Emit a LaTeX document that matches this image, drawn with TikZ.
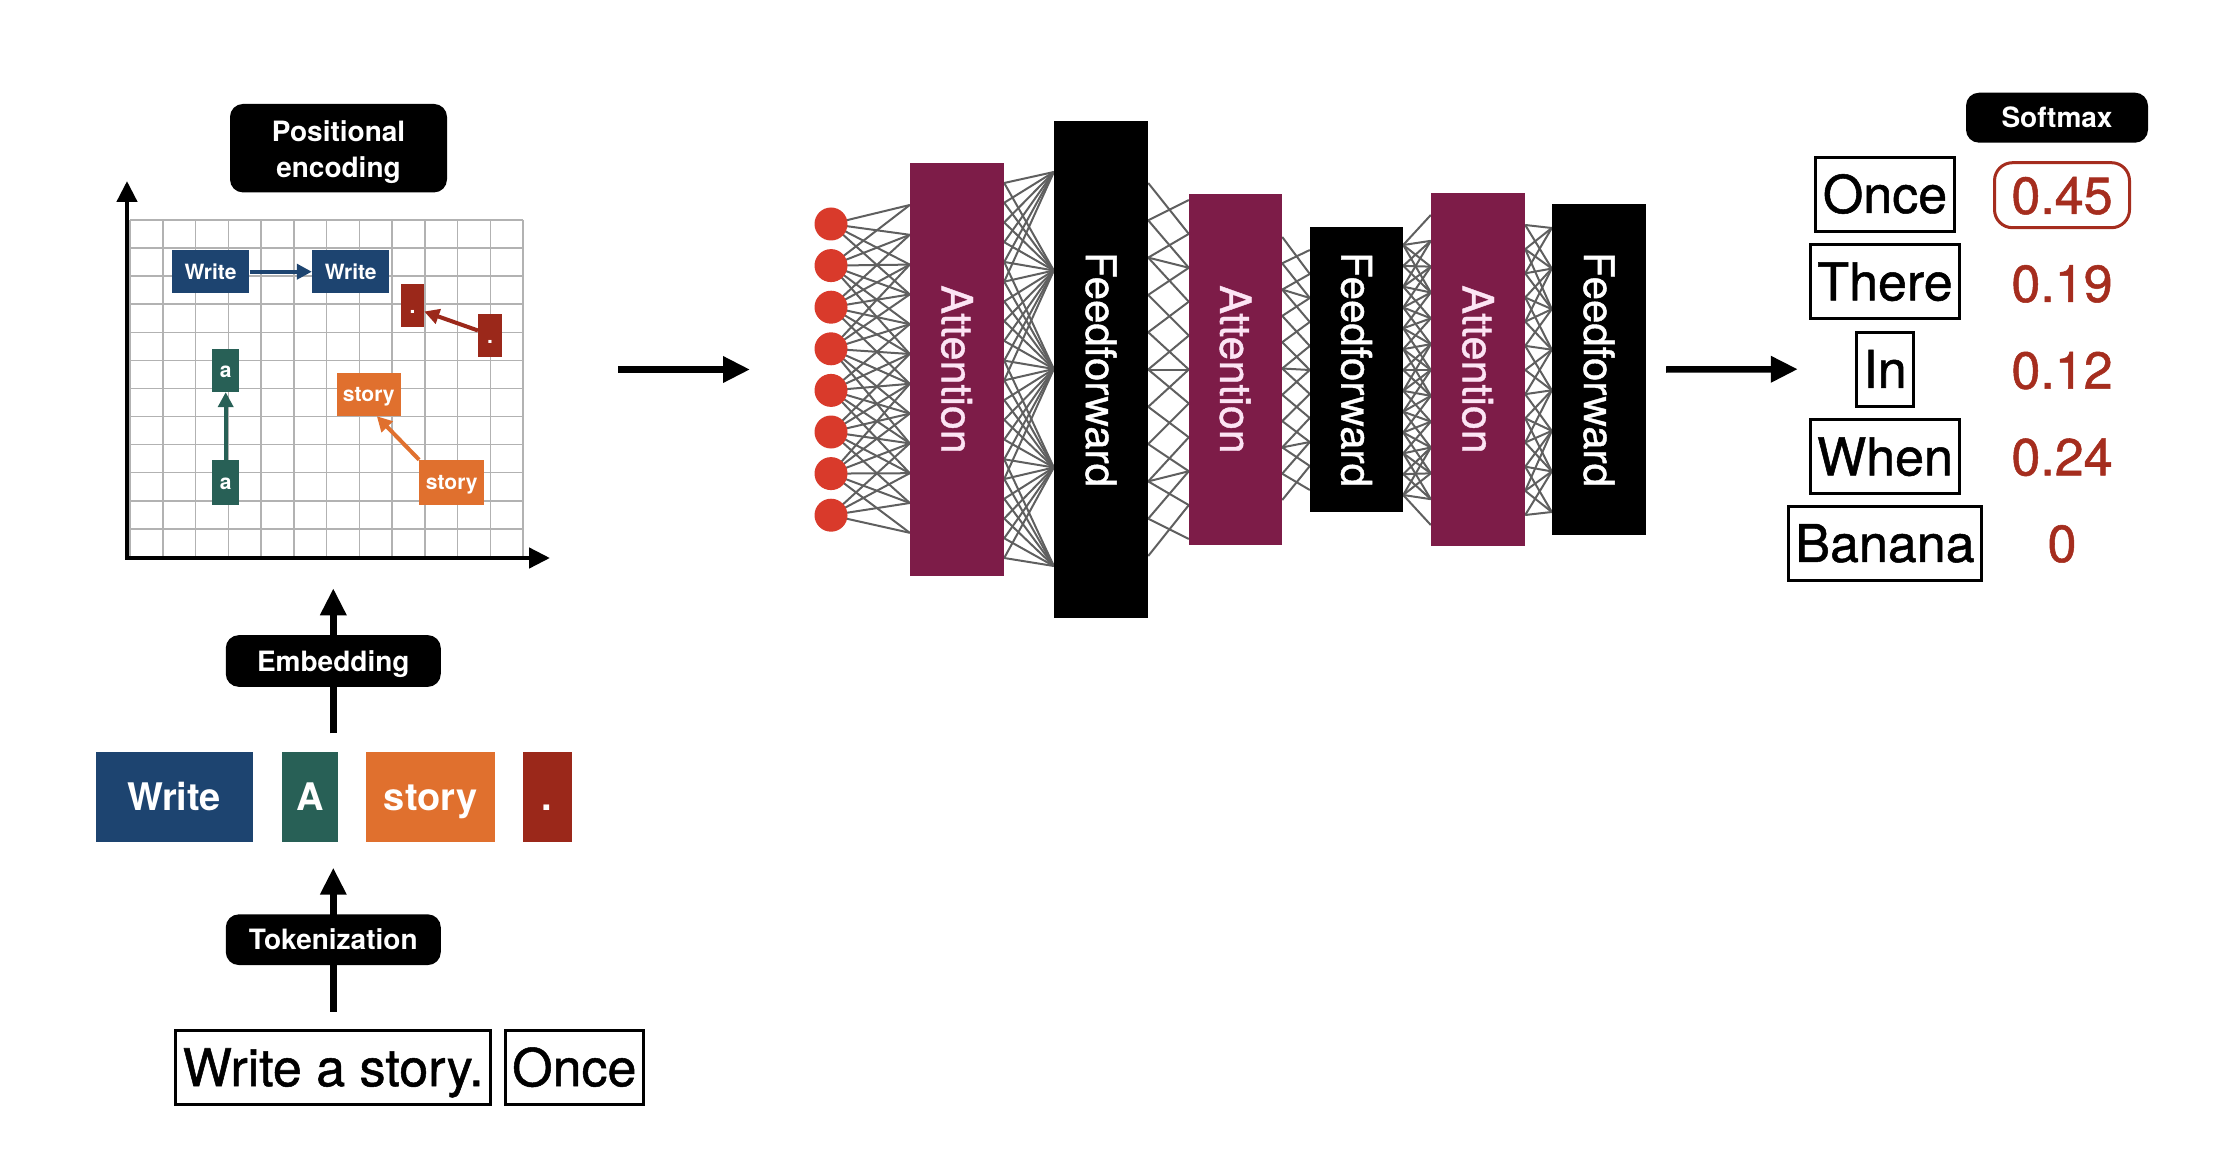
\documentclass[tikz,border=0pt]{standalone}
\usepackage{fontspec}
\setmainfont{TeX Gyre Heros}
\newfontfamily\heavyreg[FakeBold=1]{TeX Gyre Heros}
\usepackage{graphicx}
\usetikzlibrary{arrows.meta,backgrounds}
\definecolor{tkblue}{RGB}{29,68,112}
\definecolor{tkteal}{RGB}{40,96,86}
\definecolor{tkorange}{RGB}{224,112,46}
\definecolor{tkred}{RGB}{155,40,26}
\definecolor{attfill}{RGB}{125,28,72}
\definecolor{atttext}{RGB}{252,228,244}
\definecolor{neuronred}{RGB}{217,58,43}
\definecolor{numred}{RGB}{165,45,30}
\definecolor{netgray}{RGB}{95,95,95}
\definecolor{gridgray}{RGB}{178,178,178}

% #1 left node, #2 right node, #3 nL-1, #4 aL, #5 bL, #6 nR-1, #7 aR, #8 bR, #9 max dy
\newcommand\gapLines[9]{%
  \foreach \i in {0,...,#3}{%
    \foreach \j in {0,...,#6}{%
      \pgfmathsetmacro\yL{#4+(#5-#4)*\i/#3}%
      \pgfmathsetmacro\yR{#7+(#8-#7)*\j/#6}%
      \pgfmathtruncatemacro\ok{abs(\yL-\yR)<=#9 ? 1 : 0}%
      \ifnum\ok=1
        \pgfmathsetmacro\sL{369.5-\yL}%
        \pgfmathsetmacro\sR{369.5-\yR}%
        \draw[net] ([yshift=\sL pt]#1.east) -- ([yshift=\sR pt]#2.west);
      \fi
    }%
  }%
}
% sparse crossing pattern: #1 left, #2 right, #3 n-1, #4 aL, #5 bL, #6 aR, #7 bR
\newcommand\gapX[7]{%
  \foreach \i in {0,...,#3}{%
    \foreach \j in {0,...,#3}{%
      \pgfmathtruncatemacro\ok{((abs(\i-\j)==1) || ((\i==\j) && (mod(\i,3)==2))) ? 1 : 0}%
      \ifnum\ok=1
        \pgfmathsetmacro\sL{369.5-(#4+(#5-#4)*\i/#3)}%
        \pgfmathsetmacro\sR{369.5-(#6+(#7-#6)*\j/#3)}%
        \draw[net] ([yshift=\sL pt]#1.east) -- ([yshift=\sR pt]#2.west);
      \fi
    }%
  }%
}

\begin{document}
\begin{tikzpicture}[x=1pt,y=-1pt,
  lbl/.style={fill=black,text=white,rounded corners=13pt,font=\bfseries\fontsize{28}{36}\selectfont,inner sep=0pt,align=center},
  gtok/.style={text=white,font=\bfseries\fontsize{21}{24}\selectfont,inner sep=0pt,text height=15.1pt,text depth=0pt},
  rtok/.style={text=white,font=\bfseries\fontsize{38}{42}\selectfont,inner sep=0pt,minimum height=90pt,text height=27.3pt,text depth=0pt},
  wordbox/.style={draw=black,line width=3pt,font=\heavyreg\fontsize{52}{60}\selectfont,inner xsep=7pt,inner ysep=0pt,minimum height=74pt,text height=37.3pt,text depth=0pt},
  num/.style={text=numred,font=\heavyreg\fontsize{52}{60}\selectfont,inner sep=0pt,text height=37.3pt,text depth=0pt},
  attbox/.style={fill=attfill,text=atttext,font=\heavyreg\fontsize{43}{48}\selectfont,inner sep=0pt,minimum width=94pt},
  ffbox/.style={fill=black,text=white,font=\heavyreg\fontsize{42}{48}\selectfont,inner sep=0pt,minimum width=94pt},
  neuron/.style={circle,fill=neuronred,inner sep=0pt,minimum size=33pt},
  net/.style={draw=netgray,line width=2pt},
  bigarrow/.style={line width=6.5pt,-{Triangle[length=27pt,width=25pt]}},
  garrow/.style={line width=4pt,-{Triangle[length=15pt,width=15pt]}},
  axisline/.style={line width=4.5pt,{Triangle[length=21pt,width=20pt]}-{Triangle[length=21pt,width=20pt]}},
  gridline/.style={draw=gridgray,line width=1.5pt}
]
\useasboundingbox (0,0) rectangle (2238,1150);

% ---------- positional encoding plot ----------
\foreach \i in {0,...,12}{
  \draw[gridline] ({130+\i*32.75},220) -- ({130+\i*32.75},557);
  \draw[gridline] (130,{220+\i*28.08}) -- (523,{220+\i*28.08});
}
\coordinate (O) at (127,558);
\coordinate (ytip) at (127,181);
\coordinate (xtip) at (550,558);
\draw[axisline] (ytip) -- (O) -- (xtip);

\node[lbl,minimum width=217pt,minimum height=88.5pt] (pe) at (338.5,148.2)
  {\raisebox{-4pt}[\height][\depth]{\begin{tabular}{@{}c@{}}Positional\\encoding\end{tabular}}};

\node[gtok,fill=tkblue,minimum width=77.6pt,minimum height=43.3pt] (gw1) at (210.5,271.7) {Write};
\node[gtok,fill=tkblue,minimum width=77.3pt,minimum height=43.3pt] (gw2) at (350.7,271.7) {Write};
\node[gtok,fill=tkred,minimum width=23pt,minimum height=43pt] (gr1) at (412.5,305.5) {.};
\node[gtok,fill=tkred,minimum width=23.7pt,minimum height=43pt] (gr2) at (490,335.5) {.};
\node[gtok,fill=tkteal,minimum width=27.3pt,minimum height=43.3pt] (ga1) at (225.7,370.3) {a};
\node[gtok,fill=tkteal,minimum width=27.3pt,minimum height=44.7pt] (ga2) at (225.7,482.3) {a};
\node[gtok,fill=tkorange,minimum width=63.7pt,minimum height=43.3pt] (gs1) at (368.8,394.3) {story};
\node[gtok,fill=tkorange,minimum width=65pt,minimum height=44.7pt] (gs2) at (451.8,482.3) {story};

\draw[garrow,tkblue] (gw1.east) -- (gw2.west);
\draw[garrow,tkred] ([yshift=5pt]gr2.west) -- ([yshift=-6pt]gr1.east);
\draw[garrow,tkteal] (ga2.north) -- (ga1.south);
\draw[garrow,tkorange] (gs2.north west) -- ([xshift=8pt]gs1.south);

% ---------- tokens ----------
\node[rtok,fill=tkblue,minimum width=157pt] (tw) at (174,797) {Write};
\node[rtok,fill=tkteal,minimum width=56pt] (ta) at (310,797) {A};
\node[rtok,fill=tkorange,minimum width=128.5pt] (ts) at (430.7,797) {story};
\node[rtok,fill=tkred,minimum width=49pt] (tp) at (547,797) {.};

\coordinate (e1) at (333.3,733.3);
\coordinate (e2) at (333.3,588.3);
\coordinate (k1) at (333.3,1011.7);
\coordinate (k2) at (333.3,867.7);
\draw[bigarrow] (e1) -- (e2);
\draw[bigarrow] (k1) -- (k2);
\node[lbl,minimum width=215pt,minimum height=51.7pt,text height=20pt,text depth=0pt] (emb) at (333.3,661) {Embedding};
\node[lbl,minimum width=215pt,minimum height=50.7pt,text height=20pt,text depth=0pt] (tok) at (333.3,939.7) {Tokenization};

\node[wordbox] (s1) at (333.2,1067.5) {Write a story.};
\node[wordbox] (s2) at (574.3,1067.5) {Once};

% ---------- network ----------
\coordinate (la1) at (618,369.5);
\coordinate (la2) at (750,369.5);
\draw[bigarrow] (la1) -- (la2);

\foreach \k in {0,...,7}{
  \node[neuron] (c\k) at (831,{224+\k*41.6}) {};
}
\node[attbox,minimum height=412pt] (att1) at (957,369.5) {\rotatebox{-90}{Attention}};
\node[ffbox,minimum height=497pt] (ff1) at (1101,369.5) {\rotatebox{-90}{Feedforward}};
\node[attbox,minimum height=351pt,minimum width=93pt] (att2) at (1235.5,369.5) {\rotatebox{-90}{Attention}};
\node[ffbox,minimum height=285pt,minimum width=93pt] (ff2) at (1356.5,369.5) {\rotatebox{-90}{Feedforward}};
\node[attbox,minimum height=352pt] (att3) at (1478,369.5) {\rotatebox{-90}{Attention}};
\node[ffbox,minimum height=330pt] (ff3) at (1599,369.5) {\rotatebox{-90}{Feedforward}};

\begin{scope}[on background layer]
\foreach \k in {0,...,7}{
  \foreach \t in {0,...,11}{
    \pgfmathsetmacro\yc{224+\k*41.6}
    \pgfmathsetmacro\yt{205+\t*29.8}
    \pgfmathtruncatemacro\ok{abs(\yc-\yt)<=95 ? 1 : 0}
    \ifnum\ok=1
      \pgfmathsetmacro\sR{369.5-\yt}
      \draw[net] (c\k.center) -- ([yshift=\sR pt]att1.west);
    \fi
  }
}
\gapLines{att1}{ff1}{19}{183}{558}{4}{172}{566}{125}
\gapX{ff1}{att2}{10}{183}{556}{200}{539}
\gapX{att2}{ff2}{10}{237}{500}{250}{490}
\gapLines{ff2}{att3}{12}{245}{495}{12}{215}{525}{50}
\gapLines{att3}{ff3}{12}{225}{515}{7}{228}{512}{60}
\end{scope}

% ---------- softmax ----------
\node[lbl,minimum width=182pt,minimum height=50pt,text height=20pt,text depth=0pt] (soft) at (2057,117.7) {Softmax};
\node[wordbox] (w1) at (1885,194.3) {Once};
\node[wordbox] (w2) at (1885,281.7) {There};
\node[wordbox] (w3) at (1885,369.2) {In};
\node[wordbox] (w4) at (1885,456.7) {When};
\node[wordbox] (w5) at (1885,543.3) {Banana};

\draw[bigarrow] ([xshift=20pt]ff3.east) -- ([xshift=-57pt]w3.west);

\node[num,draw=numred,line width=3pt,rounded corners=18pt,minimum width=135pt,minimum height=65pt] (n1) at (2062,195.2) {0.45};
\node[num] (n2) at (2062,283.3) {0.19};
\node[num] (n3) at (2062,370) {0.12};
\node[num] (n4) at (2062,456.7) {0.24};
\node[num] (n5) at (2062,543.3) {0};
\end{tikzpicture}
\end{document}
